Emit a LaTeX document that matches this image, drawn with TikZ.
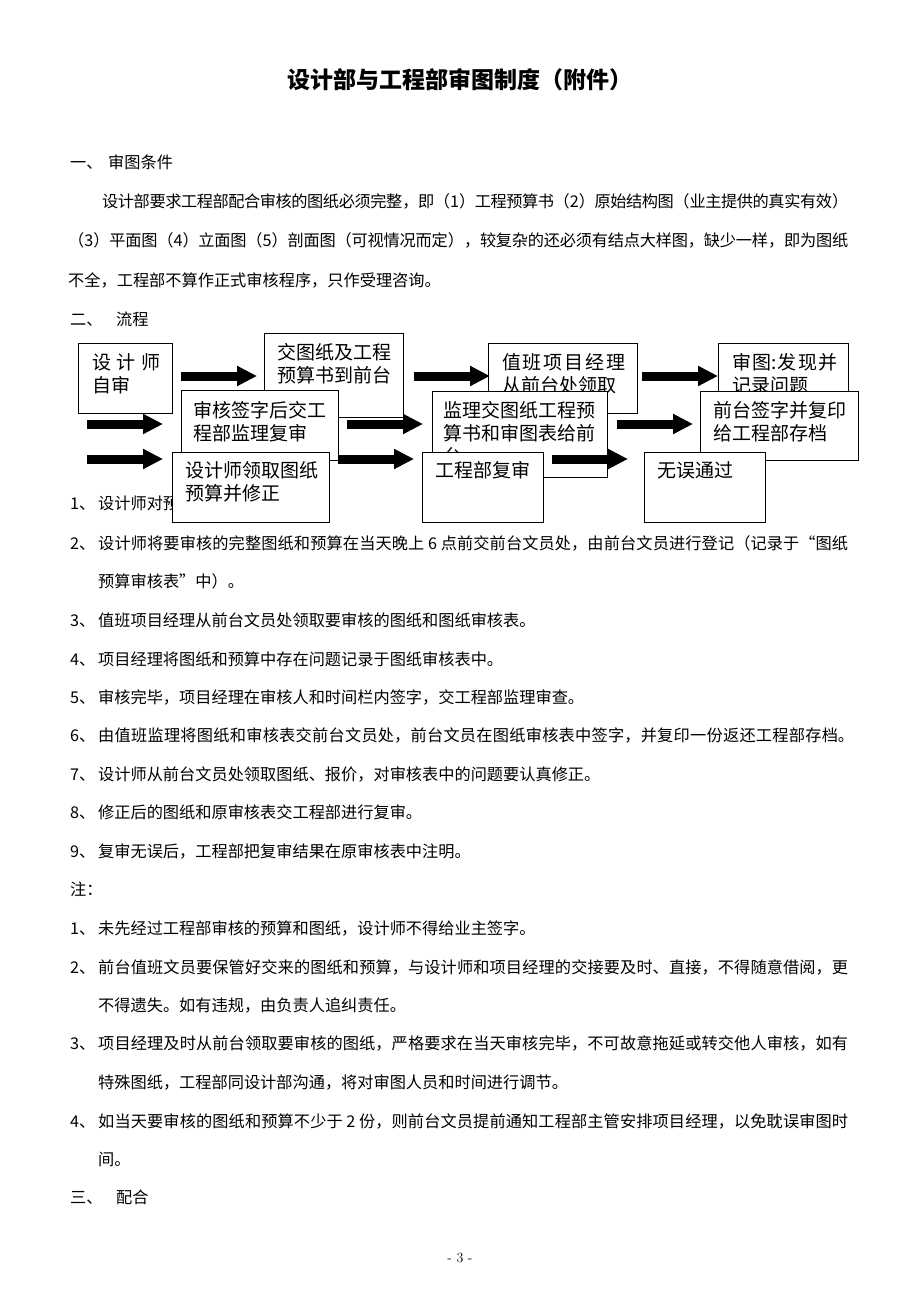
\documentclass[tikz,border=0pt]{standalone}
\usepackage{fontspec}
\usetikzlibrary{arrows.meta}
\newfontfamily\cjk{Noto Sans CJK SC}
\XeTeXlinebreaklocale "zh"
\XeTeXlinebreakskip=0pt plus 4pt minus 1pt
% a line stretched to a given width, and the number in front of an item
\newcommand{\jline}[2]{\parbox[b]{#1pt}{\parindent=0pt\parfillskip=0pt\tolerance=9999 #2}}
\newcommand{\itm}[1]{\makebox[28pt][l]{#1、}}
\tikzset{
  txt/.style={anchor=base west, inner sep=0pt, font=\cjk\fontsize{16.2}{20}\selectfont},
  box/.style={draw, fill=white, line width=1pt, inner sep=0pt, anchor=north west},
  boxtext/.style={anchor=north west, inner sep=0pt, align=left, font=\cjk\fontsize{19}{23}\selectfont},
  fatarrow/.style={line width=9pt, -{Triangle[length=20pt, width=19pt]}}
}
\begin{document}
\begin{tikzpicture}[x=1pt, y=-1pt]
  \fill[white] (0,0) rectangle (920,1302);
  \useasboundingbox (0,0) rectangle (920,1302);

  \node[inner sep=0pt, font=\cjk\bfseries\fontsize{23}{28}\selectfont] (title) at (460,80) {设计部与工程部审图制度（附件）};

  \node[txt] (h1) at (70,168) {\makebox[38pt][l]{一、}审图条件};
  \node[txt] (p1) at (102,207) {\jline{746}{设计部要求工程部配合审核的图纸必须完整，即（1）工程预算书（2）原始结构图（业主提供的真实有效）}};
  \node[txt] (p2) at (68,246) {\jline{780}{（3）平面图（4）立面图（5）剖面图（可视情况而定），较复杂的还必须有结点大样图，缺少一样，即为图纸}};
  \node[txt] (p3) at (68,286) {不全，工程部不算作正式审核程序，只作受理咨询。};
  \node[txt] (h2) at (70,325) {\makebox[46pt][l]{二、}流程};

  \node[txt] (i1) at (70,509) {\itm{1}设计师对预};
  \node[txt] (i2a) at (70,549) {\jline{778}{\itm{2}设计师将要审核的完整图纸和预算在当天晚上 6 点前交前台文员处，由前台文员进行登记（记录于“图纸}};
  \node[txt] (i2b) at (98,587) {预算审核表”中）。};
  \node[txt] (i3) at (70,626) {\itm{3}值班项目经理从前台文员处领取要审核的图纸和图纸审核表。};
  \node[txt] (i4) at (70,665) {\itm{4}项目经理将图纸和预算中存在问题记录于图纸审核表中。};
  \node[txt] (i5) at (70,703) {\itm{5}审核完毕，项目经理在审核人和时间栏内签字，交工程部监理审查。};
  \node[txt] (i6) at (70,741) {\jline{784}{\itm{6}由值班监理将图纸和审核表交前台文员处，前台文员在图纸审核表中签字，并复印一份返还工程部存档。}};
  \node[txt] (i7) at (70,780) {\itm{7}设计师从前台文员处领取图纸、报价，对审核表中的问题要认真修正。};
  \node[txt] (i8) at (70,818) {\itm{8}修正后的图纸和原审核表交工程部进行复审。};
  \node[txt] (i9) at (70,857) {\itm{9}复审无误后，工程部把复审结果在原审核表中注明。};

  \node[txt] (note) at (70,895) {注：};
  \node[txt] (n1) at (70,934) {\itm{1}未先经过工程部审核的预算和图纸，设计师不得给业主签字。};
  \node[txt] (n2a) at (70,973) {\jline{778}{\itm{2}前台值班文员要保管好交来的图纸和预算，与设计师和项目经理的交接要及时、直接，不得随意借阅，更}};
  \node[txt] (n2b) at (98,1011) {不得遗失。如有违规，由负责人追纠责任。};
  \node[txt] (n3a) at (70,1049) {\jline{778}{\itm{3}项目经理及时从前台领取要审核的图纸，严格要求在当天审核完毕，不可故意拖延或转交他人审核，如有}};
  \node[txt] (n3b) at (98,1088) {特殊图纸，工程部同设计部沟通，将对审图人员和时间进行调节。};
  \node[txt] (n4a) at (70,1127) {\jline{778}{\itm{4}如当天要审核的图纸和预算不少于 2 份，则前台文员提前通知工程部主管安排项目经理，以免耽误审图时}};
  \node[txt] (n4b) at (98,1165) {间。};
  \node[txt] (h3) at (70,1203) {\makebox[46pt][l]{三、}配合};

  \node[inner sep=0pt, font=\fontsize{14}{16}\selectfont] (page) at (460,1258) {- 3 -};

  % flow chart, row by row
  \node[box, minimum width=94pt, minimum height=70pt] (zishen) at (78,343) {};
  \node[boxtext] (zishen-t) at ([xshift=14pt, yshift=-10pt]zishen.north west) {\jline{68}{设计师}\\自审};
  \node[box, minimum width=139pt, minimum height=84pt] (qiantai) at (264,333) {};
  \node[boxtext] (qiantai-t) at ([xshift=13pt, yshift=-10pt]qiantai.north west) {交图纸及工程\\预算书到前台};
  \node[box, minimum width=149pt, minimum height=70pt] (lingqu) at (488,343) {};
  \node[boxtext] (lingqu-t) at ([xshift=14pt, yshift=-10pt]lingqu.north west) {\jline{123}{值班项目经理}\\从前台处领取};
  \node[box, minimum width=130pt, minimum height=70pt] (shentu) at (718,343) {};
  \node[boxtext] (shentu-t) at ([xshift=14pt, yshift=-10pt]shentu.north west) {\jline{105}{审图:发现并}\\记录问题};

  \node[box, minimum width=157pt, minimum height=70pt] (qianzi) at (181,390) {};
  \node[boxtext] (qianzi-t) at ([xshift=12pt, yshift=-11pt]qianzi.north west) {审核签字后交工\\程部监理复审};
  \node[box, minimum width=175pt, minimum height=86pt] (jianli) at (432,391) {};
  \node[boxtext] (jianli-t) at ([xshift=11pt, yshift=-10pt]jianli.north west) {监理交图纸工程预\\算书和审图表给前\\台};
  \node[box, minimum width=158pt, minimum height=69pt] (cundang) at (700,391) {};
  \node[boxtext] (cundang-t) at ([xshift=13pt, yshift=-10pt]cundang.north west) {前台签字并复印\\给工程部存档};

  \node[box, minimum width=157pt, minimum height=70pt] (xiuzheng) at (172,452) {};
  \node[boxtext] (xiuzheng-t) at ([xshift=13pt, yshift=-9pt]xiuzheng.north west) {设计师领取图纸\\预算并修正};
  \node[box, minimum width=121pt, minimum height=70pt] (fushen) at (422,452) {};
  \node[boxtext] (fushen-t) at ([xshift=13pt, yshift=-9pt]fushen.north west) {工程部复审};
  \node[box, minimum width=121pt, minimum height=70pt] (tongguo) at (644,452) {};
  \node[boxtext] (tongguo-t) at ([xshift=13pt, yshift=-9pt]tongguo.north west) {无误通过};

  \foreach \ax/\ay in {181/376, 414/376, 642/376, 87/424, 347/424, 617/424, 87/459, 338/459, 552/459} {
    \draw[fatarrow] (\ax,\ay) -- ++(76,0);
  }
\end{tikzpicture}
\end{document}
